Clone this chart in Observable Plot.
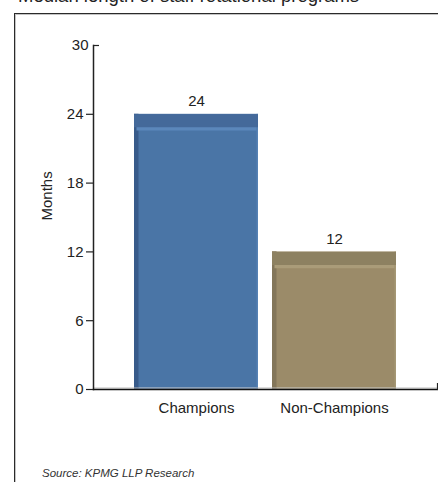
<!DOCTYPE html>
<html>
<head>
<meta charset="utf-8">
<script src="https://cdn.jsdelivr.net/npm/d3@7"></script>
<script src="https://cdn.jsdelivr.net/npm/@observablehq/plot@0.6"></script>
<style>
  html, body { margin: 0; padding: 0; background: #fff; }
  #page {
    position: relative; width: 438px; height: 482px; overflow: hidden;
    font-family: "Liberation Sans", Arial, Helvetica, sans-serif; color: #222;
  }
  #title {
    position: absolute; left: 18px; top: -13px;
    font-size: 18.5px; line-height: 1; white-space: nowrap; color: #222;
  }
  #panel {
    position: absolute; left: 14px; top: 13px; width: 470px; height: 520px;
    border-left: 1.5px solid #2a2a2a; border-top: 1.5px solid #2a2a2a;
    box-shadow: inset 1px 1px 0 #c4c4c4;
  }
  #chart { position: absolute; left: 0; top: 0; }
  #source {
    position: absolute; left: 42px; top: 468px;
    font-size: 11.5px; line-height: 1; font-style: italic; color: #333; white-space: nowrap;
  }
</style>
</head>
<body>
<div id="page">
  <div id="panel"></div>
  <div id="title">Median length of staff rotational programs</div>
  <div id="chart"></div>
  <div id="source">Source: KPMG LLP Research</div>
</div>
<script>
// Median length of staff rotational programs, in months
const categories = ["Champions", "Non-Champions"];
const months = [24, 12];
const valueLabels = ["24", "12"];
const yTicks = [0, 6, 12, 18, 24, 30];
const yAxisTitle = "Months";

// Bevelled bar shading: front face, top face, light edge, dark left side
const faceColors = ["#4a75a6", "#9b8b69"];
const topColors = ["#44699a", "#8d8161"];
const edgeColors = ["#5b87bb", "#aa9c79"];
const sideColors = ["#385b8a", "#83765a"];

const rows = categories.map((category, i) => ({
  category,
  months: months[i],
  label: valueLabels[i],
  face: faceColors[i],
  top: topColors[i],
  edge: edgeColors[i],
  side: sideColors[i]
}));

const ink = "#222";
const barWidth = 124;

const chart = Plot.plot({
  width: 438,
  height: 482,
  marginLeft: 93,
  marginRight: 1,
  marginTop: 45,
  marginBottom: 93,
  style: {
    fontFamily: '"Liberation Sans", Arial, Helvetica, sans-serif',
    fontSize: "15px",
    color: ink,
    background: "transparent",
    overflow: "visible"
  },
  x: { domain: categories, paddingInner: 0.1014, paddingOuter: 0.297, align: 0.5 },
  y: { domain: [0, 30], ticks: yTicks },
  color: { type: "identity" },
  marks: [
    // front face
    Plot.barY(rows, { x: "category", y: "months", fill: "face" }),
    // faint highlight along the right and bottom edges
    Plot.barY(rows, { x: "category", y: "months", fill: "edge", insetLeft: barWidth - 1.5, fillOpacity: 0.7 }),
    Plot.tickY(rows, { x: "category", y: () => 0, stroke: "edge", strokeWidth: 1, dy: -2, insetLeft: 5, insetRight: 2 }),
    // dark left side
    Plot.barY(rows, { x: "category", y: "months", fill: "side", insetRight: barWidth - 4.5 }),
    // light bevel under the top face
    Plot.tickY(rows, { x: "category", y: "months", stroke: "edge", strokeWidth: 3.5, dy: 14.5, insetLeft: 2.5, insetRight: 1.5 }),
    // top face
    Plot.tickY(rows, { x: "category", y: "months", stroke: "top", strokeWidth: 13, dy: 6.5 }),

    // axes
    Plot.ruleY([0], { stroke: "#bdbdbd", strokeWidth: 1, dy: -1.5 }),
    Plot.frame({ anchor: "left", stroke: ink, strokeWidth: 1.5 }),
    Plot.frame({ anchor: "bottom", stroke: "#111", strokeWidth: 1.5 }),
    Plot.frame({ anchor: "right", stroke: ink, strokeWidth: 1.2, insetTop: 338 }),
    Plot.axisY({ ticks: yTicks.filter((t) => t < 30), tickSize: 7, tickPadding: 3, label: null, stroke: ink, strokeWidth: 1.2, fill: ink }),
    Plot.axisY({ ticks: [30], tickSize: 0, tickPadding: 5, label: null, fill: ink }),
    Plot.ruleY([30], { stroke: ink, strokeWidth: 1.2, insetRight: 338 }),
    Plot.axisX({ tickSize: 0, tickPadding: 13, label: null, fill: ink }),
    Plot.text([yAxisTitle], { frameAnchor: "left", rotate: -90, dx: -46, dy: 3, fontSize: 15, fill: ink }),

    // value labels above the bars
    Plot.text(rows, { x: "category", y: "months", text: "label", dy: -13, fontSize: 15, fill: ink })
  ]
});

document.getElementById("chart").appendChild(chart);
</script>
</body>
</html>
